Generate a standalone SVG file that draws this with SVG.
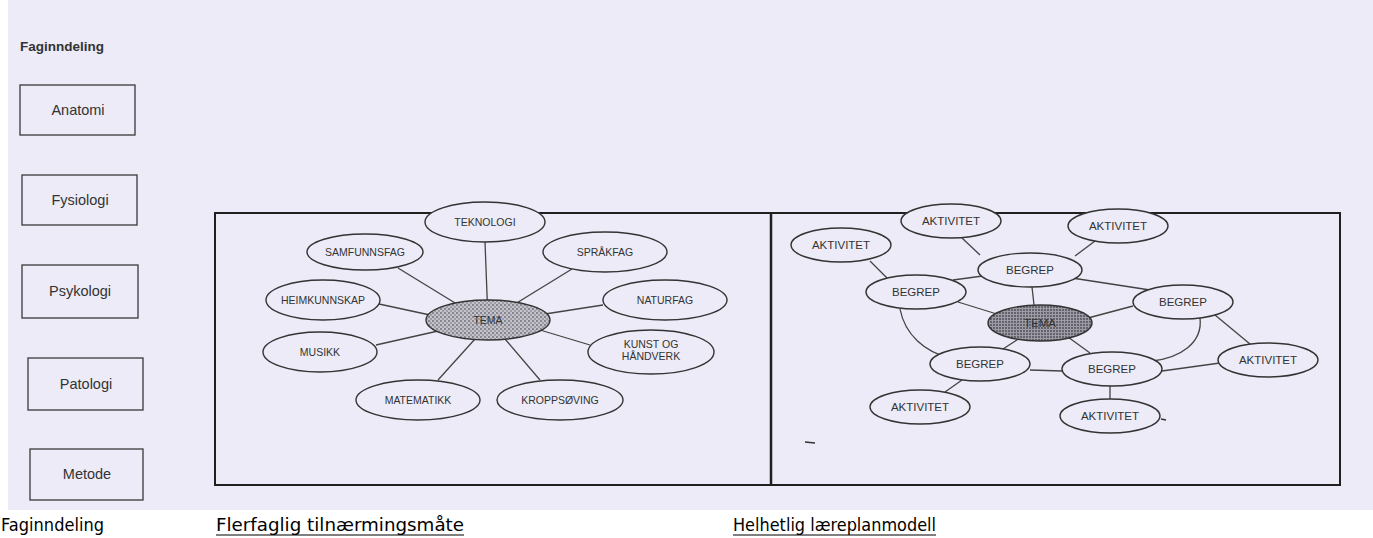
<svg xmlns="http://www.w3.org/2000/svg" width="1373" height="538" viewBox="0 0 1373 538">
<defs>
<pattern id="dots" width="4" height="4" patternUnits="userSpaceOnUse">
<rect width="4" height="4" fill="#c4c3cc"/>
<circle cx="1" cy="1" r="0.9" fill="#6a6972"/>
<circle cx="3" cy="3" r="0.9" fill="#8a8992"/>
</pattern>
<pattern id="dots2" width="3" height="3" patternUnits="userSpaceOnUse">
<rect width="3" height="3" fill="#9d9ca6"/>
<circle cx="1" cy="1" r="0.9" fill="#4a4952"/>
</pattern>
</defs>
<style>
.bg{fill:#ecebf7}
.box{fill:none;stroke:#3a3a3a;stroke-width:1.3}
.frame{fill:none;stroke:#202020;stroke-width:2}
.el{fill:#ecebf7;stroke:#333;stroke-width:1.4}
.tema{fill:url(#dots);stroke:#333;stroke-width:1.4}
.tema2{fill:url(#dots2);stroke:#333;stroke-width:1.4}
.ln{fill:none;stroke:#444;stroke-width:1.3}
.bx{font-family:"Liberation Sans",Arial,sans-serif;font-size:14.5px;fill:#333;text-anchor:middle}
.t{font-family:"Liberation Sans",Arial,sans-serif;font-size:10.5px;fill:#333;text-anchor:middle}
.t2{font-family:"Liberation Sans",Arial,sans-serif;font-size:11.5px;fill:#333;text-anchor:middle}
.cap{font-family:"DejaVu Sans",sans-serif;font-size:17px;fill:#000}
.ul{stroke:#000;stroke-width:1.2}
</style>
<rect width="1373" height="538" fill="#ffffff"/>
<rect x="8" y="0" width="1365" height="510" class="bg"/>

<text x="20" y="51" font-family="Liberation Sans,Arial,sans-serif" font-size="13.5" font-weight="bold" fill="#333">Faginndeling</text>

<g id="anatomi"><rect x="20" y="85" width="115" height="50" class="box"/><text x="78" y="115" class="bx">Anatomi</text></g>
<g id="fysiologi"><rect x="22" y="175" width="115" height="50" class="box"/><text x="80" y="205" class="bx">Fysiologi</text></g>
<g id="psykologi"><rect x="22" y="265" width="116" height="53" class="box"/><text x="80" y="296" class="bx">Psykologi</text></g>
<g id="patologi"><rect x="28" y="358" width="115" height="52" class="box"/><text x="86" y="389" class="bx">Patologi</text></g>
<g id="metode"><rect x="30" y="449" width="113" height="51" class="box"/><text x="87" y="479" class="bx">Metode</text></g>

<g id="frames">
<rect x="215" y="213" width="1125" height="272" class="frame"/>
<line x1="771" y1="213" x2="771" y2="485" stroke="#202020" stroke-width="2.5"/>
</g>

<g id="connectors">
<line x1="488" y1="320" x2="485" y2="242" class="ln"/>
<line x1="460" y1="306" x2="398" y2="268" class="ln"/>
<line x1="515" y1="304" x2="572" y2="269" class="ln"/>
<line x1="430" y1="315" x2="379" y2="304" class="ln"/>
<line x1="545" y1="314" x2="603" y2="305" class="ln"/>
<line x1="438" y1="331" x2="376" y2="345" class="ln"/>
<line x1="540" y1="330" x2="590" y2="345" class="ln"/>
<line x1="475" y1="339" x2="438" y2="380" class="ln"/>
<line x1="505" y1="339" x2="540" y2="380" class="ln"/>

<line x1="870" y1="261" x2="887" y2="278" class="ln"/>
<line x1="962" y1="238" x2="980" y2="255" class="ln"/>
<line x1="1095" y1="241" x2="1075" y2="256" class="ln"/>
<line x1="953" y1="280" x2="990" y2="275" class="ln"/>
<line x1="1072" y1="278" x2="1150" y2="290" class="ln"/>
<line x1="1032" y1="287" x2="1034" y2="305" class="ln"/>
<line x1="958" y1="302" x2="1000" y2="315" class="ln"/>
<line x1="1088" y1="318" x2="1133" y2="306" class="ln"/>
<line x1="1020" y1="338" x2="1003" y2="349" class="ln"/>
<line x1="1068" y1="337" x2="1090" y2="353" class="ln"/>
<line x1="1030" y1="370" x2="1062" y2="371" class="ln"/>
<line x1="962" y1="380" x2="945" y2="392" class="ln"/>
<line x1="1110" y1="386" x2="1110" y2="399" class="ln"/>
<line x1="1162" y1="371" x2="1220" y2="363" class="ln"/>
<line x1="1215" y1="315" x2="1250" y2="344" class="ln"/>
<path d="M 900 309 C 905 335 925 352 950 358" class="ln"/>
<path d="M 1200 318 C 1203 343 1180 358 1152 361" class="ln"/>
<line x1="805" y1="442" x2="815" y2="443" stroke="#333" stroke-width="1.3"/>
<line x1="1161" y1="419" x2="1166" y2="420" stroke="#333" stroke-width="1.3"/>
<line x1="694" y1="305" x2="693" y2="310" stroke="#333" stroke-width="1.2"/>
</g>

<g id="tema1"><ellipse cx="488" cy="320" rx="62" ry="20" class="tema"/><text x="488" y="324" class="t">TEMA</text></g>
<g id="teknologi"><ellipse cx="485" cy="222" rx="60" ry="20" class="el"/><text x="485" y="226" class="t">TEKNOLOGI</text></g>
<g id="samfunnsfag"><ellipse cx="365" cy="252" rx="58" ry="18" class="el"/><text x="365" y="256" class="t">SAMFUNNSFAG</text></g>
<g id="sprakfag"><ellipse cx="605" cy="252" rx="62" ry="20" class="el"/><text x="605" y="256" class="t">SPRÅKFAG</text></g>
<g id="heimkunnskap"><ellipse cx="323" cy="300" rx="57" ry="20" class="el"/><text x="323" y="304" class="t">HEIMKUNNSKAP</text></g>
<g id="naturfag"><ellipse cx="665" cy="300" rx="62" ry="20" class="el"/><text x="665" y="304" class="t">NATURFAG</text></g>
<g id="musikk"><ellipse cx="320" cy="352" rx="57" ry="20" class="el"/><text x="320" y="356" class="t">MUSIKK</text></g>
<g id="kunst"><ellipse cx="651" cy="352" rx="63" ry="22" class="el"/><text x="651" y="348" class="t">KUNST OG</text><text x="651" y="360" class="t">HÅNDVERK</text></g>
<g id="matematikk"><ellipse cx="418" cy="400" rx="62" ry="20" class="el"/><text x="418" y="404" class="t">MATEMATIKK</text></g>
<g id="kroppsoving"><ellipse cx="560" cy="400" rx="63" ry="20" class="el"/><text x="560" y="404" class="t">KROPPSØVING</text></g>

<g id="tema2"><ellipse cx="1040" cy="323" rx="52" ry="18" class="tema2"/><text x="1040" y="327" class="t2">TEMA</text></g>
<g id="akt1"><ellipse cx="841" cy="245" rx="50" ry="17" class="el"/><text x="841" y="249" class="t2">AKTIVITET</text></g>
<g id="akt2"><ellipse cx="951" cy="221" rx="50" ry="17" class="el"/><text x="951" y="225" class="t2">AKTIVITET</text></g>
<g id="akt3"><ellipse cx="1118" cy="226" rx="50" ry="17" class="el"/><text x="1118" y="230" class="t2">AKTIVITET</text></g>
<g id="beg1"><ellipse cx="1030" cy="270" rx="52" ry="17" class="el"/><text x="1030" y="274" class="t2">BEGREP</text></g>
<g id="beg2"><ellipse cx="916" cy="292" rx="50" ry="17" class="el"/><text x="916" y="296" class="t2">BEGREP</text></g>
<g id="beg3"><ellipse cx="1183" cy="302" rx="50" ry="17" class="el"/><text x="1183" y="306" class="t2">BEGREP</text></g>
<g id="beg4"><ellipse cx="980" cy="364" rx="50" ry="17" class="el"/><text x="980" y="368" class="t2">BEGREP</text></g>
<g id="beg5"><ellipse cx="1112" cy="369" rx="50" ry="17" class="el"/><text x="1112" y="373" class="t2">BEGREP</text></g>
<g id="akt4"><ellipse cx="1268" cy="360" rx="50" ry="17" class="el"/><text x="1268" y="364" class="t2">AKTIVITET</text></g>
<g id="akt5"><ellipse cx="920" cy="407" rx="50" ry="17" class="el"/><text x="920" y="411" class="t2">AKTIVITET</text></g>
<g id="akt6"><ellipse cx="1110" cy="416" rx="50" ry="17" class="el"/><text x="1110" y="420" class="t2">AKTIVITET</text></g>

<g id="captions">
<text x="1" y="531" class="cap" textLength="103" lengthAdjust="spacingAndGlyphs">Faginndeling</text>
<text x="216" y="531" class="cap" textLength="248" lengthAdjust="spacingAndGlyphs">Flerfaglig tilnærmingsmåte</text>
<line x1="216" y1="535" x2="464" y2="535" class="ul"/>
<text x="733" y="531" class="cap" textLength="203" lengthAdjust="spacingAndGlyphs">Helhetlig læreplanmodell</text>
<line x1="733" y1="535" x2="936" y2="535" class="ul"/>
</g>
</svg>
